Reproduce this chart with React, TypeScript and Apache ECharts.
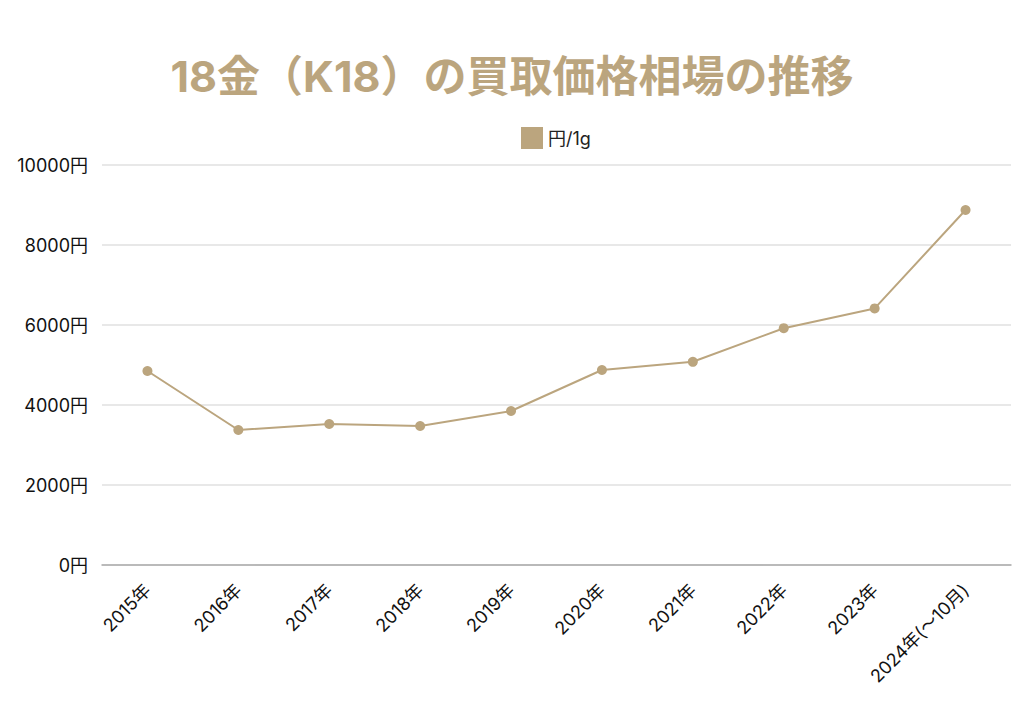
import React, { useEffect, useRef } from "react";
import * as echarts from "echarts";

const categories = ["2015年", "2016年", "2017年", "2018年", "2019年", "2020年", "2021年", "2022年", "2023年", "2024年(～10月)"];
const values = [4850, 3375, 3525, 3475, 3850, 4875, 5080, 5920, 6415, 8875];
const seriesName = "円/1g";
const titleText = "18金（K18）の買取価格相場の推移";

const GOLD = "#bba57e";
const FONT = "Inter, 'Noto Sans CJK JP', sans-serif";

export default function App() {
  const ref = useRef<HTMLDivElement>(null);
  useEffect(() => {
    if (!ref.current) return;
    const chart = echarts.init(ref.current, undefined, { renderer: "svg" });
    chart.setOption({
      animation: false,
      backgroundColor: "#ffffff",
      textStyle: { fontFamily: FONT },
      title: {
        text: titleText,
        left: "center",
        top: 41,
        textStyle: { color: GOLD, fontSize: 43, fontWeight: "bold", fontFamily: FONT },
      },
      legend: {
        top: 114,
        left: 508,
        itemWidth: 22,
        itemHeight: 22,
        itemGap: 8,
        icon: "rect",
        textStyle: { color: "#222", fontSize: 18, fontFamily: FONT },
        data: [{ name: seriesName, icon: "rect" }],
      },
      grid: { left: 94, right: 5, top: 157, bottom: 155, containLabel: false },
      xAxis: {
        type: "category",
        data: categories,
        boundaryGap: true,
        axisLine: { lineStyle: { color: "#aaaaaa", width: 1.5 } },
        axisTick: { show: false },
        axisLabel: { rotate: 45, color: "#111", fontSize: 18, margin: 22, fontFamily: FONT, interval: 0 },
      },
      yAxis: {
        type: "value",
        min: 0,
        max: 10000,
        interval: 2000,
        axisLine: { show: false },
        axisTick: { show: false },
        splitLine: { lineStyle: { color: "#e0e0e0", width: 1.5 } },
        axisLabel: { color: "#111", fontSize: 18, margin: 14, fontFamily: FONT, formatter: (v: number) => v + "円" },
      },
      series: [
        {
          name: seriesName,
          type: "line",
          data: values,
          color: GOLD,
          symbol: "circle",
          symbolSize: 10,
          lineStyle: { color: GOLD, width: 2 },
          itemStyle: { color: GOLD },
        },
      ],
    });
    return () => chart.dispose();
  }, []);
  return <div ref={ref} style={{ width: 1008, height: 712 }} />;
}
